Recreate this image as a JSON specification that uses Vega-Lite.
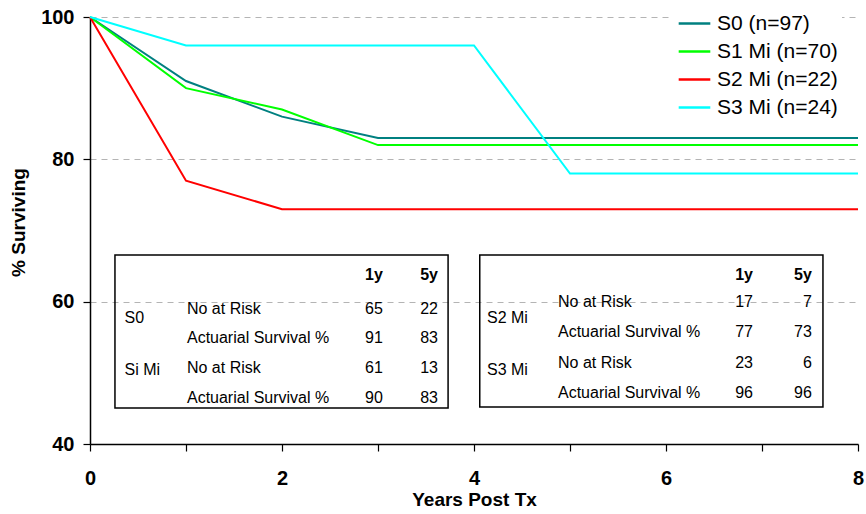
{
  "$schema": "https://vega.github.io/schema/vega-lite/v6.json",
  "width": 768,
  "height": 427,
  "autosize": "none",
  "padding": {"left": 90, "top": 17, "right": 8, "bottom": 70},
  "background": "white",
  "config": {
    "font": "Liberation Sans",
    "view": {"stroke": null},
    "axis": {"labelFont": "Liberation Sans", "titleFont": "Liberation Sans"}
  },
  "datasets": {
    "surv": [
      {"year": 0, "pct": 100, "series": "S0 (n=97)"},
      {"year": 1, "pct": 91, "series": "S0 (n=97)"},
      {"year": 2, "pct": 86, "series": "S0 (n=97)"},
      {"year": 3, "pct": 83, "series": "S0 (n=97)"},
      {"year": 4, "pct": 83, "series": "S0 (n=97)"},
      {"year": 5, "pct": 83, "series": "S0 (n=97)"},
      {"year": 6, "pct": 83, "series": "S0 (n=97)"},
      {"year": 7, "pct": 83, "series": "S0 (n=97)"},
      {"year": 8, "pct": 83, "series": "S0 (n=97)"},
      {"year": 0, "pct": 100, "series": "S1 Mi (n=70)"},
      {"year": 1, "pct": 90, "series": "S1 Mi (n=70)"},
      {"year": 2, "pct": 87, "series": "S1 Mi (n=70)"},
      {"year": 3, "pct": 82, "series": "S1 Mi (n=70)"},
      {"year": 4, "pct": 82, "series": "S1 Mi (n=70)"},
      {"year": 5, "pct": 82, "series": "S1 Mi (n=70)"},
      {"year": 6, "pct": 82, "series": "S1 Mi (n=70)"},
      {"year": 7, "pct": 82, "series": "S1 Mi (n=70)"},
      {"year": 8, "pct": 82, "series": "S1 Mi (n=70)"},
      {"year": 0, "pct": 100, "series": "S2 Mi (n=22)"},
      {"year": 1, "pct": 77, "series": "S2 Mi (n=22)"},
      {"year": 2, "pct": 73, "series": "S2 Mi (n=22)"},
      {"year": 3, "pct": 73, "series": "S2 Mi (n=22)"},
      {"year": 4, "pct": 73, "series": "S2 Mi (n=22)"},
      {"year": 5, "pct": 73, "series": "S2 Mi (n=22)"},
      {"year": 6, "pct": 73, "series": "S2 Mi (n=22)"},
      {"year": 7, "pct": 73, "series": "S2 Mi (n=22)"},
      {"year": 8, "pct": 73, "series": "S2 Mi (n=22)"},
      {"year": 0, "pct": 100, "series": "S3 Mi (n=24)"},
      {"year": 1, "pct": 96, "series": "S3 Mi (n=24)"},
      {"year": 2, "pct": 96, "series": "S3 Mi (n=24)"},
      {"year": 3, "pct": 96, "series": "S3 Mi (n=24)"},
      {"year": 4, "pct": 96, "series": "S3 Mi (n=24)"},
      {"year": 5, "pct": 78, "series": "S3 Mi (n=24)"},
      {"year": 6, "pct": 78, "series": "S3 Mi (n=24)"},
      {"year": 7, "pct": 78, "series": "S3 Mi (n=24)"},
      {"year": 8, "pct": 78, "series": "S3 Mi (n=24)"}
    ],
    "boxes": [
      {"x1": 0.26, "x2": 3.73, "y1": 66.56, "y2": 45.06},
      {"x1": 4.06, "x2": 7.635, "y1": 66.56, "y2": 45.2}
    ],
    "labels": [
      {"x": 0.36, "y": 57.7, "t": "S0"},
      {"x": 0.36, "y": 50.4, "t": "Si Mi"},
      {"x": 1.01, "y": 58.97, "t": "No at Risk"},
      {"x": 1.01, "y": 54.89, "t": "Actuarial Survival %"},
      {"x": 1.01, "y": 50.68, "t": "No at Risk"},
      {"x": 1.01, "y": 46.46, "t": "Actuarial Survival %"},
      {"x": 4.135, "y": 57.7, "t": "S2 Mi"},
      {"x": 4.135, "y": 50.4, "t": "S3 Mi"},
      {"x": 4.875, "y": 59.95, "t": "No at Risk"},
      {"x": 4.875, "y": 55.74, "t": "Actuarial Survival %"},
      {"x": 4.875, "y": 51.38, "t": "No at Risk"},
      {"x": 4.875, "y": 47.16, "t": "Actuarial Survival %"}
    ],
    "numbers": [
      {"x": 3.05, "y": 58.97, "t": "65"},
      {"x": 3.625, "y": 58.97, "t": "22"},
      {"x": 3.05, "y": 54.89, "t": "91"},
      {"x": 3.625, "y": 54.89, "t": "83"},
      {"x": 3.05, "y": 50.68, "t": "61"},
      {"x": 3.625, "y": 50.68, "t": "13"},
      {"x": 3.05, "y": 46.46, "t": "90"},
      {"x": 3.625, "y": 46.46, "t": "83"},
      {"x": 6.906, "y": 59.95, "t": "17"},
      {"x": 7.52, "y": 59.95, "t": "7"},
      {"x": 6.906, "y": 55.74, "t": "77"},
      {"x": 7.52, "y": 55.74, "t": "73"},
      {"x": 6.906, "y": 51.38, "t": "23"},
      {"x": 7.52, "y": 51.38, "t": "6"},
      {"x": 6.906, "y": 47.16, "t": "96"},
      {"x": 7.52, "y": 47.16, "t": "96"}
    ],
    "headers": [
      {"x": 3.05, "y": 63.75, "t": "1y"},
      {"x": 3.625, "y": 63.75, "t": "5y"},
      {"x": 6.906, "y": 63.75, "t": "1y"},
      {"x": 7.52, "y": 63.75, "t": "5y"}
    ]
  },
  "layer": [
    {
      "data": {"name": "surv"},
      "mark": {"type": "line", "strokeWidth": 2, "clip": false},
      "encoding": {
        "x": {
          "field": "year", "type": "quantitative",
          "scale": {"domain": [0, 8], "nice": false, "zero": false},
          "axis": {
            "values": [0, 1, 2, 3, 4, 5, 6, 7, 8],
            "format": "d",
            "labelExpr": "datum.value % 2 == 0 ? datum.label : ''",
            "grid": false,
            "domainColor": "black", "domainWidth": 1.5,
            "tickColor": "black", "tickSize": 7, "tickWidth": 1.2,
            "labelFontSize": 20, "labelFontWeight": "bold", "labelColor": "black",
            "labelPadding": 17, "labelFlush": false, "labelOverlap": false,
            "title": "Years Post Tx",
            "titleFontSize": 19, "titleFontWeight": "bold", "titleColor": "black",
            "titleBaseline": "middle", "titleY": 55, "titleX": 384
          }
        },
        "y": {
          "field": "pct", "type": "quantitative",
          "scale": {"domain": [40, 100], "nice": false, "zero": false},
          "axis": {
            "values": [40, 60, 80, 100],
            "grid": true, "gridDash": [6, 5], "gridColor": "#b4b4b4", "gridWidth": 1,
            "domainColor": "black", "domainWidth": 1.5,
            "tickColor": "black", "tickSize": 7, "tickWidth": 1.2,
            "labelFontSize": 20, "labelFontWeight": "bold", "labelColor": "black",
            "labelPadding": 9,
            "title": "% Surviving",
            "titleFontSize": 19, "titleFontWeight": "bold", "titleColor": "black",
            "titleAngle": -90, "titleBaseline": "middle", "titleAlign": "center",
            "titleX": -72, "titleY": 205
          }
        },
        "color": {
          "field": "series", "type": "nominal",
          "scale": {
            "domain": ["S0 (n=97)", "S1 Mi (n=70)", "S2 Mi (n=22)", "S3 Mi (n=24)"],
            "range": ["#008080", "#00ff00", "#ff0000", "#00ffff"]
          },
          "legend": {
            "title": null,
            "orient": "none",
            "legendX": 583,
            "legendY": -15,
            "symbolType": "stroke",
            "symbolSize": 1000,
            "symbolStrokeWidth": 2.5,
            "labelFontSize": 21,
            "labelFont": "Liberation Sans",
            "labelColor": "black",
            "labelOffset": 5,
            "rowPadding": 0,
            "fillColor": "white",
            "padding": 4
          }
        }
      }
    },
    {
      "data": {"name": "boxes"},
      "mark": {"type": "rect", "fill": null, "stroke": "black", "strokeWidth": 1.5},
      "encoding": {
        "x": {"field": "x1", "type": "quantitative"},
        "x2": {"field": "x2"},
        "y": {"field": "y1", "type": "quantitative"},
        "y2": {"field": "y2"}
      }
    },
    {
      "data": {"name": "labels"},
      "mark": {"type": "text", "align": "left", "baseline": "middle", "fontSize": 16, "font": "Liberation Sans", "color": "black"},
      "encoding": {
        "x": {"field": "x", "type": "quantitative"},
        "y": {"field": "y", "type": "quantitative"},
        "text": {"field": "t"}
      }
    },
    {
      "data": {"name": "numbers"},
      "mark": {"type": "text", "align": "right", "baseline": "middle", "fontSize": 16, "font": "Liberation Sans", "color": "black"},
      "encoding": {
        "x": {"field": "x", "type": "quantitative"},
        "y": {"field": "y", "type": "quantitative"},
        "text": {"field": "t"}
      }
    },
    {
      "data": {"name": "headers"},
      "mark": {"type": "text", "align": "right", "baseline": "middle", "fontSize": 16, "fontWeight": "bold", "font": "Liberation Sans", "color": "black"},
      "encoding": {
        "x": {"field": "x", "type": "quantitative"},
        "y": {"field": "y", "type": "quantitative"},
        "text": {"field": "t"}
      }
    }
  ]
}
